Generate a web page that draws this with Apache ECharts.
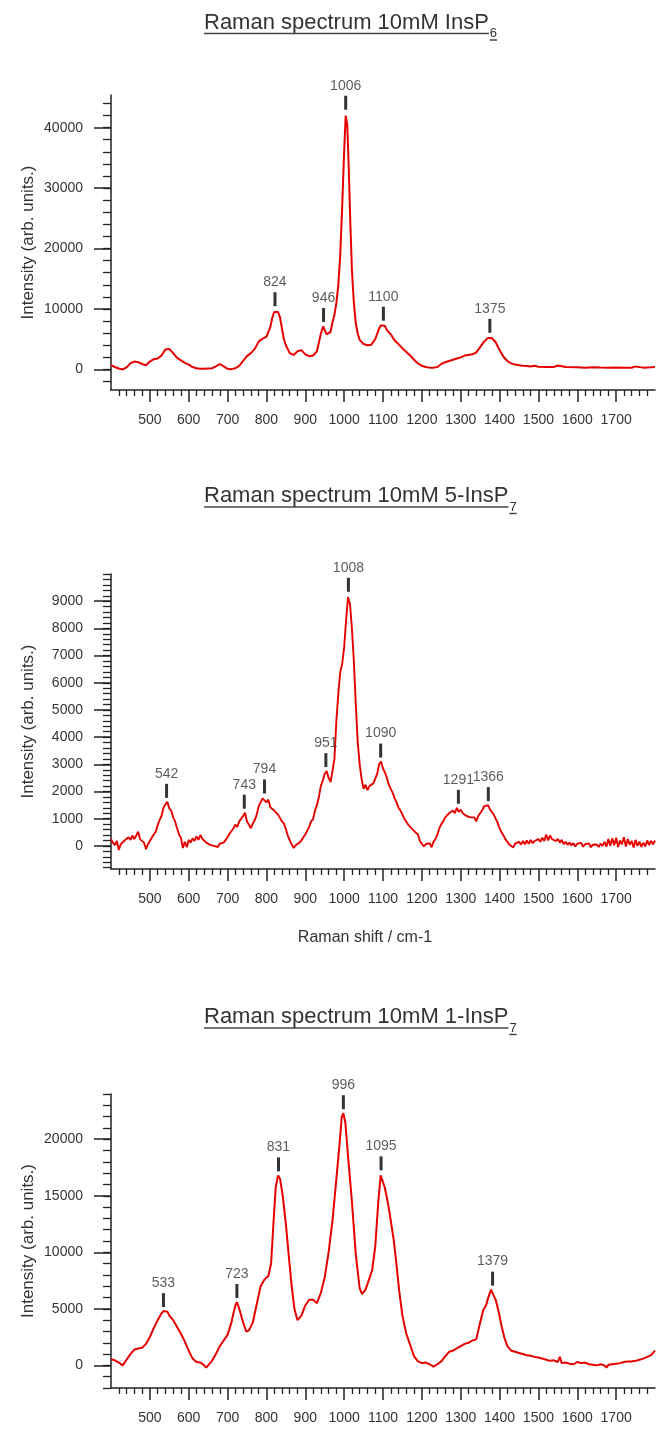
<!DOCTYPE html>
<html>
<head>
<meta charset="utf-8">
<script src="https://cdn.jsdelivr.net/npm/echarts@6/dist/echarts.min.js"></script>
<style>
html,body{margin:0;padding:0;background:#fff;}
#chart{width:660px;height:1429px;}
</style>
</head>
<body>
<div id="chart"></div>
<script>
// ---------- DATA ----------
const titles = ["Raman spectrum 10mM InsP", "Raman spectrum 10mM 5-InsP", "Raman spectrum 10mM 1-InsP"];
const titleSubs = ["6", "7", "7"];
const yAxisTitle = "Intensity (arb. units.)";
const xAxisTitle = "Raman shift / cm-1";

const xTickLabels = [500, 600, 700, 800, 900, 1000, 1100, 1200, 1300, 1400, 1500, 1600, 1700];

// Spectrum 1: InsP6
const shift1 = [400,410,420,430,440,450,460,470,480,490,500,510,520,530,540,550,560,570,580,590,
  600,610,620,630,640,650,660,670,680,690,700,710,720,730,740,750,760,770,780,790,
  800,810,815,820,825,830,835,840,845,850,860,870,880,890,900,910,920,930,940,946,
  950,955,960,965,970,975,980,985,990,995,1000,1004,1006,1008,1012,1016,1020,1025,1030,1035,
  1040,1050,1060,1070,1080,1090,1095,1100,1105,1110,1120,1130,1140,1150,1160,1170,1180,1190,1200,1210,
  1220,1230,1240,1250,1260,1270,1280,1290,1300,1310,1320,1330,1340,1350,1360,1370,1375,1380,1390,1400,
  1410,1420,1430,1440,1450,1460,1470,1480,1490,1500,1520,1540,1550,1555,1570,1600,1620,1640,1660,1680,
  1700,1720,1740,1750,1755,1770,1790,1800];
const intensity1 = [700,400,150,0,350,1000,1300,1200,900,700,1300,1700,1800,2300,3300,3400,2700,1900,1500,1100,
  800,400,200,100,100,150,200,500,900,500,100,50,200,600,1400,2200,2700,3400,4600,5100,
  5400,7000,8500,9500,9800,9500,8600,6800,5000,4000,2700,2400,3000,3200,2500,2200,2300,3000,5900,7100,
  6800,5800,5600,6200,7800,9000,11000,14000,19000,27000,36000,42000,42200,40500,33000,24000,16500,11000,7600,5900,
  4900,4200,4000,4100,5000,6800,7300,7400,7200,6500,5800,4800,4200,3500,2900,2300,1600,1000,600,400,
  300,300,400,900,1200,1400,1600,1800,2000,2300,2400,2500,2800,3700,4600,5200,5400,5200,4500,3200,
  2100,1400,1000,800,700,600,550,500,600,450,400,420,650,350,400,380,300,350,320,300,
  330,300,280,500,280,300,350,400];

// Spectrum 2: 5-InsP7
const shift2 = [400,405,410,415,420,425,430,435,440,445,450,455,460,465,470,475,480,485,490,495,
  500,505,510,515,520,525,530,535,540,545,550,555,560,565,570,575,580,585,590,595,
  600,605,610,615,620,625,630,635,640,645,650,655,660,665,670,675,680,685,690,695,
  700,705,710,715,720,725,730,735,740,745,750,755,760,765,770,775,780,785,790,795,
  800,805,810,815,820,825,830,835,840,845,850,855,860,865,870,875,880,885,890,895,
  900,905,910,915,920,925,930,935,940,945,950,955,960,965,970,975,980,985,990,995,
  1000,1005,1010,1015,1020,1025,1030,1035,1040,1045,1050,1055,1060,1065,1070,1075,1080,1085,1090,1095,
  1100,1105,1110,1115,1120,1125,1130,1135,1140,1145,1150,1155,1160,1165,1170,1175,1180,1185,1190,1195,
  1200,1205,1210,1215,1220,1225,1230,1235,1240,1245,1250,1255,1260,1265,1270,1275,1280,1285,1290,1295,
  1300,1305,1310,1315,1320,1325,1330,1335,1340,1345,1350,1355,1360,1365,1370,1375,1380,1385,1390,1395,
  1400,1405,1410,1415,1420,1425,1430,1435,1440,1445,1450,1455,1460,1465,1470,1475,1480,1485,1490,1495,
  1500,1505,1510,1515,1520,1525,1530,1535,1540,1545,1550,1555,1560,1565,1570,1575,1580,1585,1590,1595,
  1600,1605,1610,1615,1620,1625,1630,1635,1640,1645,1650,1655,1660,1665,1670,1675,1680,1685,1690,1695,
  1700,1705,1710,1715,1720,1725,1730,1735,1740,1745,1750,1755,1760,1765,1770,1775,1780,1785,1790,1795,
  1800];
const intensity2 = [250,120,30,180,-150,60,120,200,150,320,220,380,250,300,520,240,300,120,-120,60,
  180,120,420,520,760,950,1100,1400,1520,1620,1380,1300,1050,900,650,420,300,-80,150,-50,
  220,120,280,180,350,220,400,260,200,120,160,40,100,0,60,-40,80,20,120,220,
  330,450,520,640,780,700,900,850,1100,1220,900,780,650,820,950,1150,1450,1600,1750,1780,
  1600,1700,1420,1480,1300,1350,1150,1100,900,820,620,380,200,60,-80,20,-40,120,200,320,
  420,560,700,900,980,1300,1500,1800,2200,2400,2650,2750,2500,2350,2750,3200,4600,5600,6400,6700,
  7300,8300,9150,8900,8000,6800,5200,3800,3000,2450,2100,2250,2050,2200,2150,2300,2250,2650,3000,3100,
  2850,2700,2500,2250,2100,1950,1750,1600,1400,1300,1150,1000,950,780,700,760,550,480,420,180,
  120,-20,60,20,100,-50,150,250,420,650,800,900,1050,1000,1200,1250,1300,1200,1400,1250,
  1330,1200,1250,1100,1150,1050,980,1050,900,1100,1200,1300,1450,1380,1500,1350,1300,1150,1000,850,
  650,500,380,250,200,50,120,-60,80,20,150,50,180,60,200,80,220,100,180,120,
  250,150,300,180,420,200,380,250,300,180,260,120,220,60,150,40,120,20,100,-20,
  80,20,110,-30,60,0,90,-50,40,-20,50,-40,80,0,150,-30,250,0,280,20,
  300,-40,200,60,320,-20,250,40,180,-60,220,0,160,-40,120,-20,200,30,180,60,
  200];

// Spectrum 3: 1-InsP7
const shift3 = [400,410,420,430,435,440,450,460,470,480,490,500,510,520,530,535,540,545,550,560,
  570,580,590,600,610,620,630,640,645,650,660,670,680,690,700,710,715,720,724,730,
  740,748,755,765,775,785,795,805,812,818,824,830,835,842,850,858,865,872,880,890,
  900,910,920,930,940,950,960,970,980,988,994,998,1003,1010,1020,1030,1040,1046,1055,1065,
  1072,1080,1088,1094,1098,1104,1112,1120,1128,1135,1142,1150,1160,1170,1180,1190,1200,1210,1220,1230,
  1240,1250,1260,1270,1280,1290,1300,1310,1320,1330,1340,1350,1358,1365,1372,1378,1382,1390,1398,1405,
  1412,1420,1430,1440,1450,1460,1470,1480,1490,1500,1510,1520,1530,1540,1550,1555,1560,1570,1580,1590,
  1600,1610,1620,1630,1640,1650,1660,1670,1675,1680,1690,1700,1710,1720,1730,1740,1750,1760,1770,1780,
  1790,1800];
const intensity3 = [550,450,250,0,50,500,1000,1400,1500,1550,1900,2500,3300,4000,4600,4800,4700,4750,4400,4000,
  3400,2800,2100,1300,600,300,250,0,-200,0,400,1000,1700,2200,2700,3800,4600,5300,5600,5000,
  3800,3000,3100,3800,5400,7000,7600,7900,9000,12500,15800,16800,16500,15000,12500,9500,7000,5000,4000,4400,
  5300,5800,5800,5500,6400,7800,10000,12800,16500,19500,22000,22300,21500,18500,14500,9800,6800,6300,6700,7700,
  8400,10500,14500,16800,16900,15800,14500,12800,11000,8800,6500,4400,2800,1800,800,350,200,250,100,-100,
  100,350,800,1200,1300,1500,1700,1900,2000,2200,2300,3800,4900,5300,6100,6700,6600,5800,4700,3500,
  2500,1700,1300,1200,1100,1000,900,850,750,700,600,500,400,450,300,750,200,250,150,100,
  300,200,250,100,50,0,100,0,-200,50,100,150,200,300,350,350,400,500,600,750,
  900,1300];

// Peak annotations (position on the axis, height of the peak, printed label)
const peakX1 = [822, 947, 1004, 1101, 1375];
const peakY1 = [9800, 7200, 42300, 7400, 5400];
const peakLabel1 = ["824", "946", "1006", "1100", "1375"];
const peakX2 = [543, 743, 795, 953, 1011, 1094, 1294, 1371];
const peakY2 = [1620, 1220, 1780, 2750, 9200, 3100, 1400, 1500];
const peakLabel2 = ["542", "743", "794", "951", "1008", "1090", "1291", "1366"];
const peakX3 = [535, 724, 831, 998, 1095, 1382];
const peakY3 = [4800, 5600, 16800, 22300, 16900, 6700];
const peakLabel3 = ["533", "723", "831", "996", "1095", "1379"];

// Y axis tick labels
const yTicks1 = [0, 10000, 20000, 30000, 40000];
const yTicks2 = [0, 1000, 2000, 3000, 4000, 5000, 6000, 7000, 8000, 9000];
const yTicks3 = [0, 5000, 10000, 15000, 20000];

// ---------- CHART ----------
const FONT = '"Liberation Sans", Arial, Helvetica, sans-serif';
const AX = '#222';
const TXT = '#333';
const RED = '#e60000';

const panels = [
  {x: shift1, y: intensity1, px: peakX1, py: peakY1, pl: peakLabel1, yt: yTicks1, ymin: -3400, ymax: 45400, minorStep: 2000,
   top: 95, bottom: 1429 - 390, title: titles[0], sub: titleSubs[0], base: 30.5, lw: 2},
  {x: shift2, y: intensity2, px: peakX2, py: peakY2, pl: peakLabel2, yt: yTicks2, ymin: -850, ymax: 10000, minorStep: 200,
   top: 574, bottom: 1429 - 869, title: titles[1], sub: titleSubs[1], base: 504, lw: 1.9},
  {x: shift3, y: intensity3, px: peakX3, py: peakY3, pl: peakLabel3, yt: yTicks3, ymin: -2000, ymax: 24000, minorStep: 1000,
   top: 1094, bottom: 1429 - 1388, title: titles[2], sub: titleSubs[2], base: 1025, lw: 2}
];

function minorList(min, max, step) {
  const out = [];
  const start = Math.ceil(min / step) * step;
  for (let v = start; v <= max + 1e-9; v += step) out.push(v);
  return out;
}

const mctx = document.createElement('canvas').getContext('2d');
function textWidth(t, size) {
  mctx.font = size + 'px "Liberation Sans"';
  return mctx.measureText(t).width;
}
const plain = v => String(v);

const grid = [], xAxis = [], yAxis = [], series = [], graphic = [];
const TITLE_FS = 22, SUB_FS = 13, TITLE_LEFT = 204;

panels.forEach((p, i) => {
  grid.push({left: 111, right: 5, top: p.top, bottom: p.bottom, containLabel: false, outerBoundsMode: 'none'});
  xAxis.push({
    gridIndex: i, type: 'value', min: 400, max: 1800, interval: 100,
    axisLine: {show: true, onZero: false, lineStyle: {color: AX, width: 1.5}},
    axisTick: {show: true, customValues: xTickLabels, length: 12, lineStyle: {color: AX, width: 1.5}},
    minorTick: {show: true, splitNumber: 5, length: 6, lineStyle: {color: AX, width: 1.3}},
    axisLabel: {show: true, customValues: xTickLabels, formatter: plain, margin: 23, fontSize: 14, color: TXT, fontFamily: FONT},
    splitLine: {show: false}, minorSplitLine: {show: false}
  });
  yAxis.push({
    gridIndex: i, type: 'value', min: p.ymin, max: p.ymax, position: 'left',
    axisLine: {show: true, onZero: false, lineStyle: {color: AX, width: 1.5}},
    axisTick: {show: true, customValues: p.yt, length: 17, lineStyle: {color: AX, width: 1.5}},
    axisLabel: {show: true, customValues: p.yt, formatter: plain, margin: 28, fontSize: 14, color: TXT, fontFamily: FONT},
    splitLine: {show: false},
    name: yAxisTitle, nameLocation: 'middle', nameGap: 74, nameMoveOverlap: false,
    nameTextStyle: {fontSize: 17, color: TXT, fontFamily: FONT}
  });
  yAxis.push({
    gridIndex: i, type: 'value', min: p.ymin, max: p.ymax, position: 'left', offset: 0,
    axisLine: {show: false},
    axisTick: {show: true, customValues: minorList(p.ymin, p.ymax, p.minorStep), length: 8, lineStyle: {color: AX, width: 1.3}},
    axisLabel: {show: false}, splitLine: {show: false}
  });
  series.push({
    type: 'line', xAxisIndex: i, yAxisIndex: 2 * i, showSymbol: false, symbol: 'none',
    data: p.x.map((v, k) => [v, p.y[k]]),
    lineStyle: {color: RED, width: p.lw}, silent: true, animation: false, z: 2
  });
  series.push({
    type: 'scatter', xAxisIndex: i, yAxisIndex: 2 * i, clip: false,
    data: p.px.map((v, k) => ({value: [v, p.py[k]], label: {formatter: p.pl[k]}})),
    symbol: 'rect', symbolSize: [3, 14], symbolOffset: [0, -11],
    itemStyle: {color: '#000'},
    label: {show: true, position: 'top', distance: 3, fontSize: 14, color: TXT, fontFamily: FONT},
    silent: true, animation: false, z: 3
  });

  // title with subscript and underline
  const w = textWidth(p.title, TITLE_FS);
  const ws = textWidth(p.sub, SUB_FS);
  const subX = TITLE_LEFT + w + 1;
  const subBase = p.base + 7.5;
  graphic.push({type: 'text', x: TITLE_LEFT, y: p.base - 0.3465 * TITLE_FS,
    style: {text: p.title, font: TITLE_FS + 'px ' + FONT, fill: TXT, textAlign: 'left', textVerticalAlign: 'middle'}});
  graphic.push({type: 'text', x: subX, y: subBase - 0.3465 * SUB_FS,
    style: {text: p.sub, font: SUB_FS + 'px ' + FONT, fill: TXT, textAlign: 'left', textVerticalAlign: 'middle'}});
  graphic.push({type: 'line', shape: {x1: TITLE_LEFT, y1: p.base + 3, x2: TITLE_LEFT + w, y2: p.base + 3},
    style: {stroke: '#444', lineWidth: 1.5}});
  graphic.push({type: 'line', shape: {x1: subX, y1: subBase + 2, x2: subX + ws, y2: subBase + 2},
    style: {stroke: '#444', lineWidth: 1.5}});
});

graphic.push({type: 'text', x: 365, y: 938,
  style: {text: xAxisTitle, font: '16px ' + FONT, fill: TXT, textAlign: 'center', textVerticalAlign: 'middle'}});

const chart = echarts.init(document.getElementById('chart'), null, {renderer: 'canvas', width: 660, height: 1429});
chart.setOption({
  backgroundColor: '#ffffff',
  animation: false,
  grid, xAxis, yAxis, series, graphic
});
</script>
</body>
</html>
